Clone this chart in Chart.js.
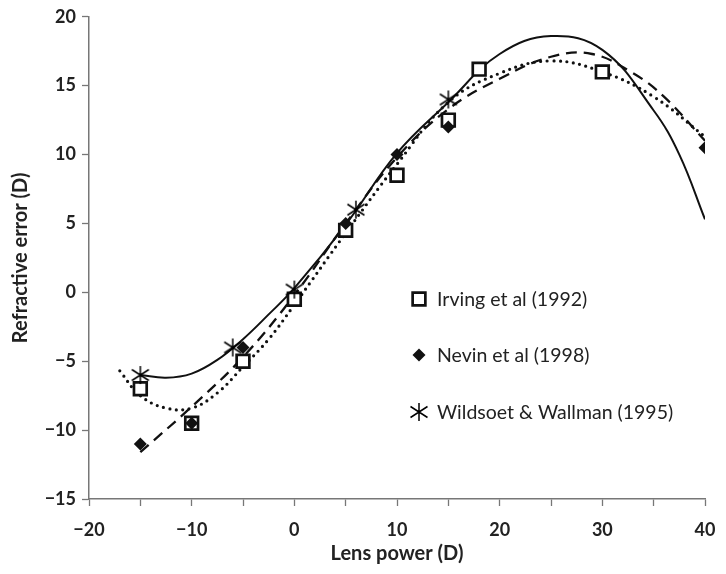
<!DOCTYPE html>
<html>
<head>
<meta charset="utf-8">
<script src="https://cdn.jsdelivr.net/npm/chart.js@4.4.1/dist/chart.umd.min.js"></script>
<style>
  html, body { margin: 0; padding: 0; background: #fff; }
  #wrap { width: 726px; height: 574px; position: relative; }
</style>
</head>
<body>
<div id="wrap"><canvas id="lensChart"></canvas></div>
<script>
// measured points (lens power D, refractive error D)
var irvingX = [-15, -10, -5, 0, 5, 10, 15, 18, 30];
var irvingY = [-7, -9.5, -5, -0.5, 4.5, 8.5, 12.5, 16.2, 16];
var nevinX = [-15, -10, -5, 5, 10, 15, 40];
var nevinY = [-11, -9.5, -4, 5, 10, 12, 10.5];
var wildX = [-15, -6, 0, 6, 15];
var wildY = [-6, -4, 0.2, 6, 14];

// fitted trend curves
var solidX = [-15, -12.5, -10, -7.5, -5, -2.5, 0, 5, 10, 15, 20, 25, 30, 35, 37.5, 40];
var solidY = [-6.0, -6.2, -5.9, -4.9, -3.4, -1.6, 0.3, 4.9, 10.1, 13.8, 17.3, 18.6, 17.6, 13.2, 10.0, 5.3];
var dashX = [-15, -10, -5, 0, 5, 10, 15, 20, 25, 29, 33, 36, 40];
var dashY = [-11.6, -8.3, -4.7, -0.2, 5.0, 9.8, 13.3, 15.5, 17.1, 17.3, 15.9, 14.2, 11.0];
var dotX = [-17, -15, -12.5, -10, -7.5, -5, -2.5, 0, 5, 10, 15, 20, 25, 30, 35, 40];
var dotY = [-5.7, -7.5, -8.4, -8.4, -7.3, -5.4, -3.4, -0.9, 4.3, 9.3, 13.8, 15.9, 16.8, 16.0, 14.2, 11.3];

var legendNames = ['Irving et al (1992)', 'Nevin et al (1998)', 'Wildsoet & Wallman (1995)'];

function pairs(xs, ys) {
    var out = [];
    for (var i = 0; i < xs.length; i++) out.push({x: xs[i], y: ys[i]});
    return out;
}

// six-spoke asterisk marker
function makeStar() {
    var c = document.createElement('canvas');
    c.width = 20; c.height = 20;
    var g = c.getContext('2d');
    g.strokeStyle = '#000';
    g.lineWidth = 1.5;
    g.beginPath();
    g.moveTo(10, 1); g.lineTo(10, 19);
    g.moveTo(1.5, 4.5); g.lineTo(18.5, 15.5);
    g.moveTo(1.5, 15.5); g.lineTo(18.5, 4.5);
    g.stroke();
    return c;
}
var starImg = makeStar();

var FONT = 'Lato, "DejaVu Sans", sans-serif';
var axisColor = '#777';

// draws the legend inside the plot area
var innerLegend = {
    id: 'innerLegend',
    afterDraw: function(chart) {
        var ctx = chart.ctx;
        var rows = [
            {y: 299, opts: {pointStyle: 'rect', radius: 9, rotation: 0, borderWidth: 2.7}, fill: '#fff'},
            {y: 355, opts: {pointStyle: 'rectRot', radius: 6.5, rotation: 0, borderWidth: 0}, fill: '#111'},
            {y: 412, opts: {pointStyle: starImg, radius: 9, rotation: 0, borderWidth: 0}, fill: '#111'}
        ];
        ctx.save();
        rows.forEach(function(r, i) {
            ctx.fillStyle = r.fill;
            ctx.strokeStyle = '#111';
            ctx.lineWidth = r.opts.borderWidth;
            Chart.helpers.drawPoint(ctx, r.opts, 419, r.y);
            ctx.fillStyle = '#222';
            ctx.font = '19.5px ' + FONT;
            ctx.textBaseline = 'middle';
            ctx.textAlign = 'left';
            ctx.fillText(legendNames[i], 437, r.y + 1);
        });
        ctx.restore();
    }
};

var chart = new Chart(document.getElementById('lensChart'), {
    type: 'scatter',
    data: {
        datasets: [
            { label: 'solid', type: 'line', data: pairs(solidX, solidY), borderColor: '#111', borderWidth: 2,
              pointRadius: 0, tension: 0.4, fill: false, order: 5 },
            { label: 'dash', type: 'line', data: pairs(dashX, dashY), borderColor: '#111', borderWidth: 2.3,
              borderDash: [11, 7], pointRadius: 0, tension: 0.4, fill: false, order: 5 },
            { label: 'dot', type: 'line', data: pairs(dotX, dotY), borderColor: '#111', borderWidth: 3.2,
              borderDash: [0, 6.5], borderCapStyle: 'round', pointRadius: 0, tension: 0.4, fill: false, order: 5 },
            { label: legendNames[0], data: pairs(irvingX, irvingY), pointStyle: 'rect', pointRadius: 9,
              pointBorderWidth: 2.7, borderColor: '#111', backgroundColor: '#fff', order: 3 },
            { label: legendNames[1], data: pairs(nevinX, nevinY), pointStyle: 'rectRot', pointRadius: 6.5,
              pointBorderWidth: 0, borderColor: '#111', backgroundColor: '#111', order: 2 },
            { label: legendNames[2], data: pairs(wildX, wildY), pointStyle: starImg, pointRadius: 9,
              borderColor: '#111', backgroundColor: '#111', order: 0 }
        ]
    },
    options: {
        responsive: true,
        maintainAspectRatio: false,
        animation: false,
        layout: { padding: { left: 0, right: 21, top: 15, bottom: 0 } },
        plugins: {
            legend: { display: false },
            tooltip: { enabled: false }
        },
        scales: {
            x: {
                type: 'linear',
                min: -20, max: 40,
                afterFit: function(s) {
                    s.height = 75;
                    s.paddingLeft = 10;
                    s.paddingRight = 10;
                },
                border: { display: true, color: axisColor, width: 1.5 },
                grid: { drawOnChartArea: false, drawTicks: true, tickLength: 7, color: axisColor, tickWidth: 1.3 },
                ticks: {
                    stepSize: 5, padding: 13, color: '#222', maxRotation: 0, autoSkip: false,
                    font: { family: FONT, size: 18, weight: 'bold' },
                    callback: function(v) {
                        if (v % 10 !== 0) return '';
                        return v < 0 ? '\u2212' + Math.abs(v) : String(v);
                    }
                },
                title: { display: true, text: 'Lens power (D)', color: '#222',
                         font: { family: FONT, size: 20, weight: 'bold' }, padding: { top: 0, bottom: 8 } }
            },
            y: {
                type: 'linear',
                min: -15, max: 20,
                afterFit: function(s) { s.width = 89; },
                border: { display: true, color: axisColor, width: 1.5 },
                grid: { drawOnChartArea: false, drawTicks: true, tickLength: 7, color: axisColor, tickWidth: 1.3 },
                ticks: {
                    stepSize: 5, padding: 6, color: '#222',
                    font: { family: FONT, size: 18, weight: 'bold' },
                    callback: function(v) { return v < 0 ? '\u2212' + Math.abs(v) : String(v); }
                },
                title: { display: true, text: 'Refractive error (D)', color: '#222',
                         font: { family: FONT, size: 20, weight: 'bold' }, padding: { top: 9, bottom: 0 } }
            }
        }
    },
    plugins: [innerLegend]
});
</script>
</body>
</html>
